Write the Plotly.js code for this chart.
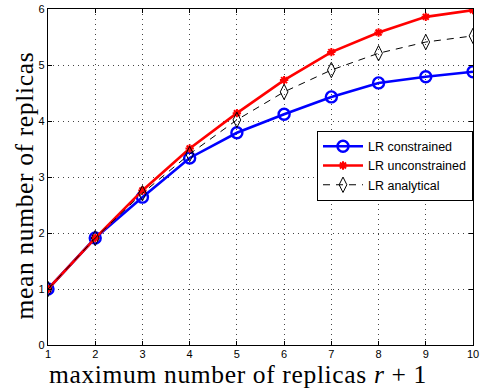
<!DOCTYPE html>
<html>
<head>
<meta charset="utf-8">
<script src="https://cdn.plot.ly/plotly-3.0.1.min.js"></script>
<style>
  html, body { margin: 0; padding: 0; background: #fff; }
  #chart { width: 485px; height: 389px; }
  /* slightly looser tracking for the serif axis titles */
  text.annotation-text { letter-spacing: 0.65px; }
</style>
</head>
<body>
<div id="chart"></div>
<script>
// Maximum number of replicas (r + 1)
const maxReplicas = [1, 2, 3, 4, 5, 6, 7, 8, 9, 10];
// Mean number of replicas for each policy
const lrConstrained   = [1.00, 1.91, 2.64, 3.34, 3.79, 4.12, 4.43, 4.68, 4.79, 4.88];
const lrUnconstrained = [1.00, 1.91, 2.76, 3.51, 4.14, 4.73, 5.23, 5.58, 5.86, 5.98];
const lrAnalytical    = [1.00, 1.91, 2.71, 3.41, 4.02, 4.52, 4.91, 5.21, 5.41, 5.52];
const seriesNames = ['LR constrained', 'LR unconstrained', 'LR analytical'];
const xTicks = [1, 2, 3, 4, 5, 6, 7, 8, 9, 10];
const yTicks = [0, 1, 2, 3, 4, 5, 6];
const xTitle = 'maximum number of replicas <i>r</i> + 1';
const yTitle = 'mean number of replicas';

const traces = [
  {
    x: maxReplicas, y: lrConstrained, name: seriesNames[0],
    mode: 'lines+markers',
    line: { color: '#0000ff', width: 2.6 },
    marker: { symbol: 'circle-open', size: 11, color: '#0000ff', line: { width: 2.4, color: '#0000ff' } }
  },
  {
    x: maxReplicas, y: lrUnconstrained, name: seriesNames[1],
    mode: 'lines+markers',
    line: { color: '#ff0000', width: 2.6 },
    marker: { symbol: 'asterisk-open', size: 7, color: '#ff0000', line: { width: 2, color: '#ff0000' } }
  },
  {
    x: maxReplicas, y: lrAnalytical, name: seriesNames[2],
    mode: 'lines+markers',
    line: { color: '#000000', width: 1, dash: '7px,6px' },
    marker: { symbol: 'diamond-tall-open', size: 11, color: '#000000', line: { width: 1, color: '#000000' } }
  }
];

const tickFont = { family: 'Liberation Sans, Arial, sans-serif', size: 11, color: '#000' };
const titleFont = { family: 'Liberation Serif, Times New Roman, serif', size: 25.5, color: '#000' };

const axisStyle = {
  ticks: 'inside', ticklen: 4, tickcolor: '#000', tickwidth: 1,
  showline: true, linecolor: '#000', linewidth: 1.2, mirror: 'ticks',
  showgrid: true, gridcolor: '#444', griddash: '1px,4px', gridwidth: 1,
  zeroline: false, tickfont: tickFont
};

const layout = {
  width: 485, height: 389,
  margin: { l: 48, r: 12, t: 9, b: 44 },
  paper_bgcolor: '#fff', plot_bgcolor: '#fff',
  showlegend: true,
  legend: {
    x: 1, y: 0.638, xanchor: 'right', yanchor: 'top',
    bgcolor: '#fff', bordercolor: '#000', borderwidth: 1,
    font: { family: 'Liberation Sans, Arial, sans-serif', size: 12.5, color: '#000' },
    tracegroupgap: 0, itemwidth: 40
  },
  xaxis: Object.assign({ range: [1, 10], tickvals: xTicks, ticktext: xTicks.map(String), ticklabelstandoff: -1 }, axisStyle),
  yaxis: Object.assign({ range: [0, 6], tickvals: yTicks, ticktext: yTicks.map(String) }, axisStyle),
  annotations: [
    {
      text: xTitle, xref: 'paper', yref: 'paper', x: 0.5, y: 0,
      xanchor: 'center', yanchor: 'top', xshift: -23, yshift: -14,
      borderpad: 0, showarrow: false, font: titleFont
    },
    {
      text: yTitle, xref: 'paper', yref: 'paper', x: 0, y: 0.5,
      xanchor: 'right', yanchor: 'middle', xshift: -9, yshift: -9,
      borderpad: 0, textangle: -90, showarrow: false, font: titleFont
    }
  ]
};

Plotly.newPlot('chart', traces, layout, { displayModeBar: false, staticPlot: true });
</script>
</body>
</html>
